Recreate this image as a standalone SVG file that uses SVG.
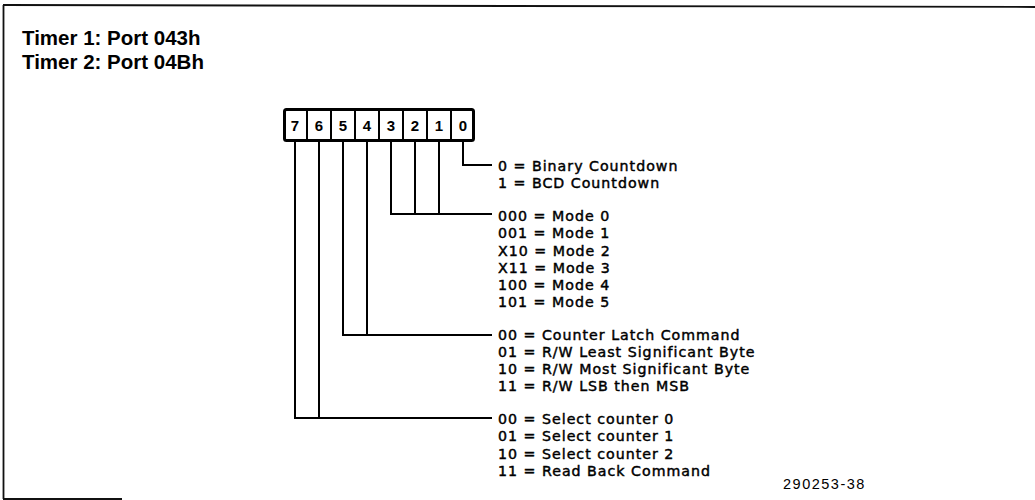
<svg xmlns="http://www.w3.org/2000/svg" width="1035" height="500" viewBox="0 0 1035 500">
  <style>
    .frame { fill: none; stroke: #111; stroke-width: 1.8; }
    .title { font-family: "Liberation Sans", Arial, sans-serif; font-weight: bold; font-size: 20.5px; fill: #000; }
    .lbl { font-family: "DejaVu Sans", Verdana, sans-serif; font-size: 14.2px; letter-spacing: 1px; fill: #000; stroke: #000; stroke-width: 0.45; }
    .fig { font-family: "Liberation Sans", Arial, sans-serif; font-size: 14.5px; letter-spacing: 1.5px; fill: #000; }
    .bit { font-family: "Liberation Sans", Arial, sans-serif; font-weight: bold; font-size: 15px; fill: #000; text-anchor: middle; }
    .box { fill: #fff; stroke: #000; stroke-width: 3; }
    .div { stroke: #000; stroke-width: 2; }
    .wire { fill: none; stroke: #000; stroke-width: 2; }
  </style>
  <rect width="1035" height="500" fill="#fff"/>

  <!-- partial frame -->
  <g id="frame">
    <line class="frame" x1="3" y1="5" x2="1035" y2="7"/>
    <line class="frame" x1="3.5" y1="5" x2="3.5" y2="499"/>
    <line class="frame" x1="3" y1="499" x2="122" y2="499"/>
  </g>

  <g id="title">
    <text class="title" x="22" y="45">Timer 1: Port 043h</text>
    <text class="title" x="22" y="69">Timer 2: Port 04Bh</text>
  </g>

  <!-- register bit box -->
  <g id="register">
    <rect class="box" x="284.5" y="109.5" width="189" height="31" rx="2"/>
    <line class="div" x1="307" y1="109.5" x2="307" y2="140.5"/>
    <line class="div" x1="331" y1="109.5" x2="331" y2="140.5"/>
    <line class="div" x1="355" y1="109.5" x2="355" y2="140.5"/>
    <line class="div" x1="379" y1="109.5" x2="379" y2="140.5"/>
    <line class="div" x1="403" y1="109.5" x2="403" y2="140.5"/>
    <line class="div" x1="427" y1="109.5" x2="427" y2="140.5"/>
    <line class="div" x1="451" y1="109.5" x2="451" y2="140.5"/>
    <text class="bit" x="295" y="130.5">7</text>
    <text class="bit" x="319" y="130.5">6</text>
    <text class="bit" x="343" y="130.5">5</text>
    <text class="bit" x="367" y="130.5">4</text>
    <text class="bit" x="391" y="130.5">3</text>
    <text class="bit" x="415" y="130.5">2</text>
    <text class="bit" x="439" y="130.5">1</text>
    <text class="bit" x="463" y="130.5">0</text>
  </g>

  <!-- connectors -->
  <g id="connectors">
    <polyline class="wire" points="463,141 463,165 492,165"/>
    <polyline class="wire" points="391,141 391,214 492,214"/>
    <line class="wire" x1="415" y1="141" x2="415" y2="214"/>
    <line class="wire" x1="439" y1="141" x2="439" y2="214"/>
    <polyline class="wire" points="343,141 343,335 492,335"/>
    <line class="wire" x1="367" y1="141" x2="367" y2="335"/>
    <polyline class="wire" points="295,141 295,418 492,418"/>
    <line class="wire" x1="319" y1="141" x2="319" y2="418"/>
  </g>

  <g id="bit0-labels">
    <text class="lbl" x="498" y="171">0 = Binary Countdown</text>
    <text class="lbl" x="498" y="188">1 = BCD Countdown</text>
  </g>

  <g id="mode-labels">
    <text class="lbl" x="498" y="221">000 = Mode 0</text>
    <text class="lbl" x="498" y="238.3">001 = Mode 1</text>
    <text class="lbl" x="498" y="255.5">X10 = Mode 2</text>
    <text class="lbl" x="498" y="272.8">X11 = Mode 3</text>
    <text class="lbl" x="498" y="290">100 = Mode 4</text>
    <text class="lbl" x="498" y="307.3">101 = Mode 5</text>
  </g>

  <g id="rw-labels">
    <text class="lbl" x="498" y="340">00 = Counter Latch Command</text>
    <text class="lbl" x="498" y="357">01 = R/W Least Significant Byte</text>
    <text class="lbl" x="498" y="374">10 = R/W Most Significant Byte</text>
    <text class="lbl" x="498" y="391">11 = R/W LSB then MSB</text>
  </g>

  <g id="select-labels">
    <text class="lbl" x="498" y="424">00 = Select counter 0</text>
    <text class="lbl" x="498" y="441.3">01 = Select counter 1</text>
    <text class="lbl" x="498" y="458.6">10 = Select counter 2</text>
    <text class="lbl" x="498" y="476">11 = Read Back Command</text>
  </g>

  <g id="figure-number">
    <text class="fig" x="783" y="489">290253-38</text>
  </g>
</svg>
